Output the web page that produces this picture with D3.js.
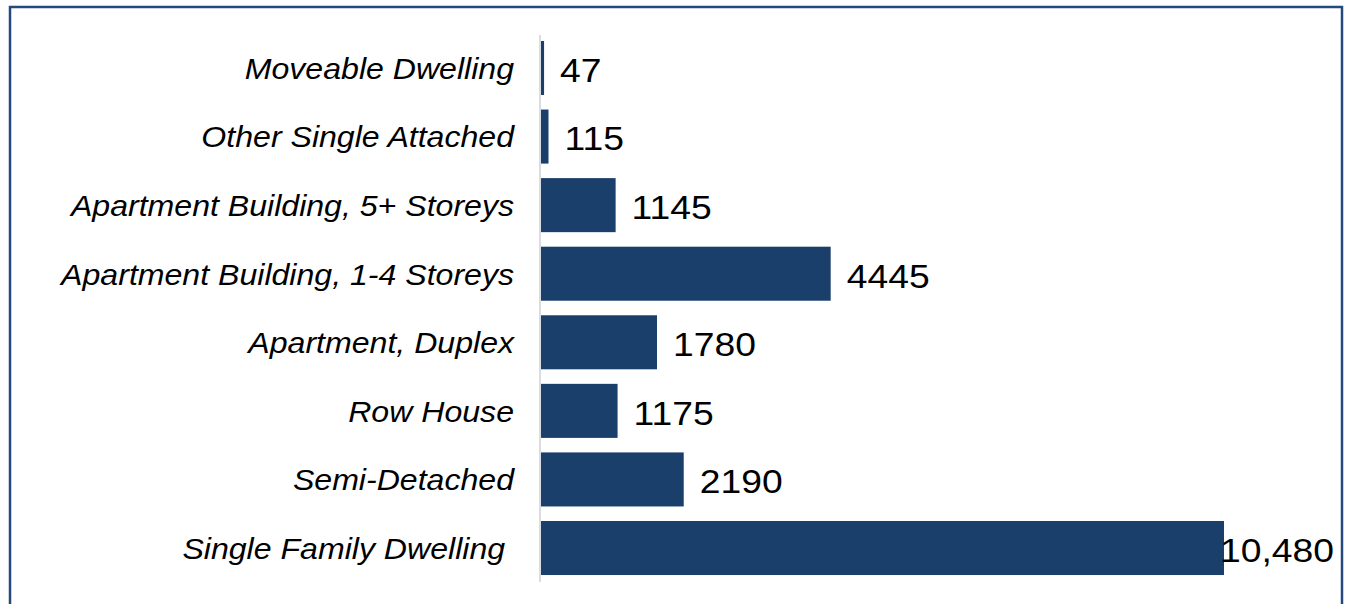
<!DOCTYPE html>
<html>
<head>
<meta charset="utf-8">
<script src="https://cdn.jsdelivr.net/npm/d3@7"></script>
<style>
  html, body { margin: 0; padding: 0; background: #fff; }
  svg { display: block; font-family: Arial, "Liberation Sans", sans-serif; }
</style>
</head>
<body>
<div id="viz"></div>
<script>
// Datos
const categories = ['Moveable Dwelling', 'Other Single Attached', 'Apartment Building, 5+ Storeys',
  'Apartment Building, 1-4 Storeys', 'Apartment, Duplex', 'Row House', 'Semi-Detached', 'Single Family Dwelling '];
const values = [47, 115, 1145, 4445, 1780, 1175, 2190, 10480];
const valueLabels = ['47', '115', '1145', '4445', '1780', '1175', '2190', '10,480'];

const COLOR_BAR = '#1B3F6B',
  COLOR_BORDER = '#25497A',
  COLOR_AXIS = '#D9DDE3';

const width = 1345, height = 604;
const LABEL_SX = 1.07, VALUE_SX = 1.13;
const data = categories.map((c, i) => ({ cat: c, value: values[i], label: valueLabels[i] }));

let svg = d3.select('#viz').append('svg')
  .attr('width', width)
  .attr('height', height);

// Marco exterior
svg.append('rect')
  .attr('x', 10).attr('y', 7)
  .attr('width', 1332).attr('height', 640)
  .attr('fill', 'none')
  .attr('stroke', COLOR_BORDER)
  .attr('stroke-width', 2.5);

let x = d3.scaleLinear()
  .domain([0, 10480])
  .range([541, 1224]);

let y = d3.scaleBand()
  .domain(categories)
  .range([33.7, 582.3])
  .paddingInner(0.212)
  .paddingOuter(0.106);

// Barras
svg.selectAll('.bar')
  .data(data)
  .enter().append('rect')
  .attr('class', 'bar')
  .attr('x', x(0))
  .attr('y', d => y(d.cat))
  .attr('width', d => Math.max(1.5, x(d.value) - x(0)))
  .attr('height', y.bandwidth())
  .attr('fill', COLOR_BAR);

// Eje vertical
svg.append('g')
  .attr('transform', 'translate(540,0)')
  .call(d3.axisLeft(y).tickSize(0).tickPadding(26 / LABEL_SX))
  .call(g => g.select('.domain').attr('stroke', COLOR_AXIS).attr('stroke-width', 2)
    .attr('d', 'M0,35V582'))
  .call(g => g.selectAll('text')
    .attr('font-size', 30)
    .attr('font-style', 'italic')
    .attr('fill', '#000')
    .attr('font-family', 'Arial, "Liberation Sans", sans-serif')
    .attr('transform', 'scale(' + LABEL_SX + ',1)')
    .style('white-space', 'pre')
    .attr('dy', '0.36em'));

// Etiquetas de valor
svg.selectAll('.val')
  .data(data)
  .enter().append('text')
  .attr('class', 'val')
  .attr('x', 0)
  .attr('dy', '0.42em')
  .attr('font-size', 33)
  .attr('fill', '#000')
  .text(d => d.label)
  .attr('transform', function(d) {
    const w = this.getComputedTextLength() * VALUE_SX;
    const px = Math.min(x(d.value) + 16, 1334 - w);
    const py = y(d.cat) + y.bandwidth() / 2;
    return 'translate(' + px + ',' + py + ') scale(' + VALUE_SX + ',1)';
  });
</script>
</body>
</html>
